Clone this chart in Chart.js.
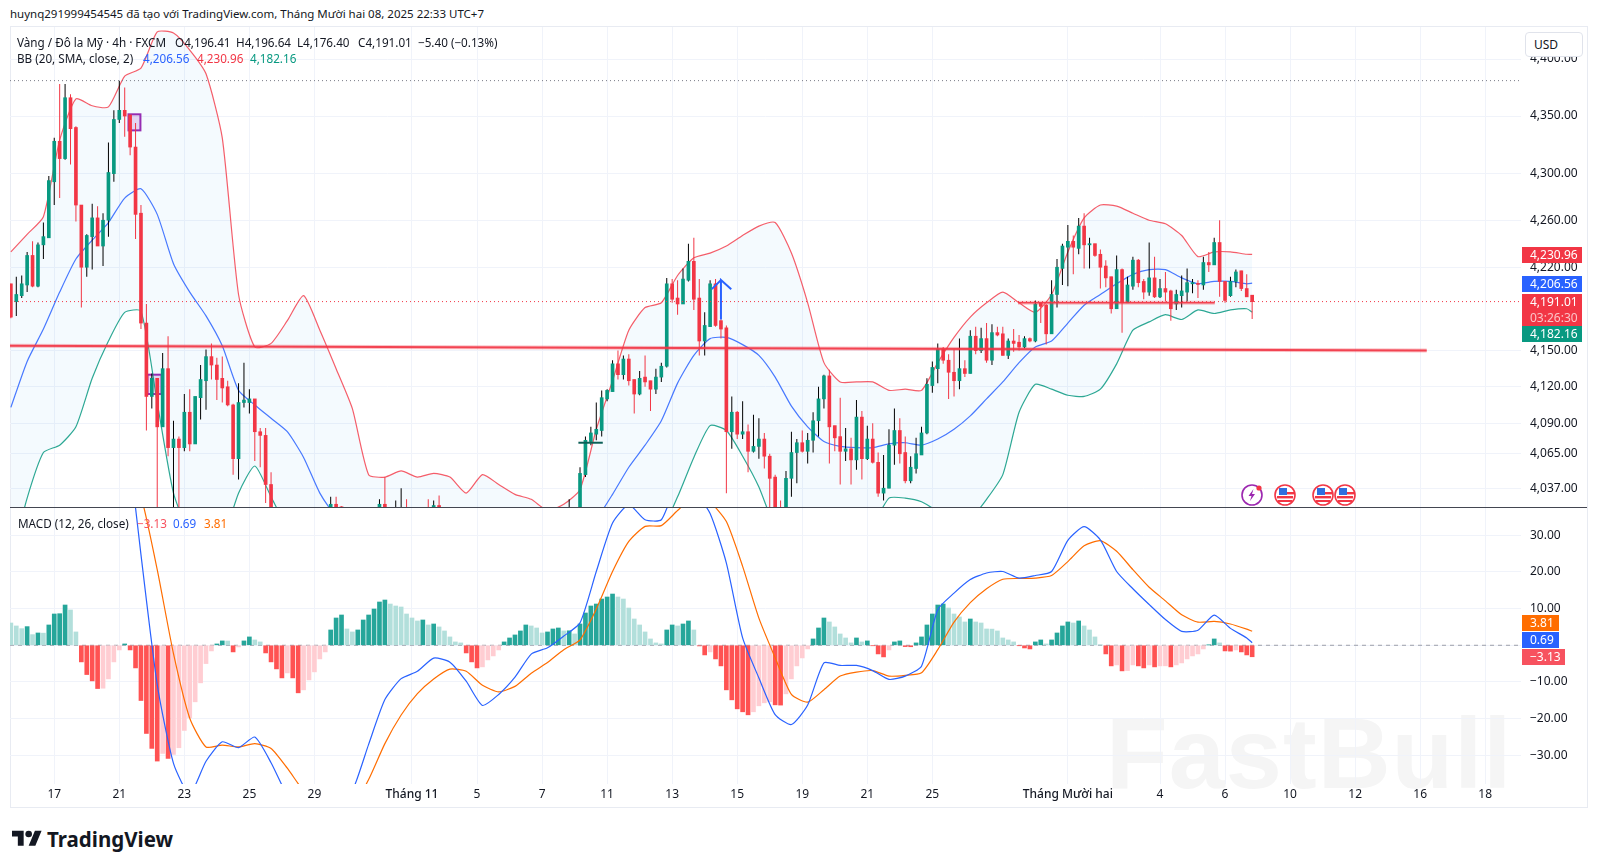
<!DOCTYPE html>
<html lang="vi">
<head>
<meta charset="utf-8">
<title>XAUUSD 4h</title>
<script src="https://cdn.jsdelivr.net/npm/chart.js@4/dist/chart.umd.min.js"></script>
<style>
  html,body{margin:0;background:#fff;}
  #page{position:relative;width:1597px;height:867px;overflow:hidden;font-family:"Noto Sans",sans-serif;font-size:12px;color:#131722;}
  canvas{position:absolute;display:block;}
  .frame{position:absolute;left:10px;top:26px;width:1576px;height:780px;border:1px solid #e8ebf2;box-sizing:content-box;}
  .sep{position:absolute;left:10px;top:507px;width:1577px;height:1px;background:#434651;}
  .t{position:absolute;white-space:nowrap;line-height:16px;font-size:11.7px;}
  .tag{position:absolute;left:1522px;color:#fff;text-align:left;padding-left:8px;box-sizing:border-box;line-height:16px;white-space:nowrap;}
  .usd{position:absolute;left:1525px;top:32px;width:58px;height:25px;border:1px solid #e0e3eb;border-radius:4px;background:#fff;box-sizing:border-box;line-height:23px;padding-left:8px;}
  .mark{position:absolute;left:1106px;top:703px;font-size:101px;font-weight:700;letter-spacing:1px;color:#f5f5f5;line-height:101px;white-space:nowrap;font-family:"Liberation Sans",sans-serif;}
  .logo{position:absolute;left:12px;top:825px;display:flex;align-items:center;gap:5px;font-size:20.5px;font-weight:700;color:#131722;}
  svg.ev{position:absolute;top:483px;width:24px;height:24px;}
</style>
</head>
<body>
<div id="page">
  <div class="mark">FastBull</div>
  <div class="frame"></div>
  <canvas id="priceChart" width="1577" height="480" style="left:10px;top:27px"></canvas>
  <canvas id="macdChart" width="1577" height="299" style="left:10px;top:508px"></canvas>
  <div class="sep"></div>

  <div class="t" style="left:10px;top:6px;font-size:11.5px">huynq291999454545 đã tạo với TradingView.com, Tháng Mười hai 08, 2025 22:33 UTC+7</div>

  <div class="t" style="left:17px;top:34px">Vàng / Đô la Mỹ · 4h · FXCM</div>
  <div class="t" style="left:175px;top:34px">O4,196.41</div>
  <div class="t" style="left:236px;top:34px">H4,196.64</div>
  <div class="t" style="left:297px;top:34px">L4,176.40</div>
  <div class="t" style="left:358px;top:34px">C4,191.01</div>
  <div class="t" style="left:418px;top:34px">−5.40 (−0.13%)</div>

  <div class="t" style="left:17px;top:50px">BB (20, SMA, close, 2)</div>
  <div class="t" style="left:143px;top:50px;color:#2962ff">4,206.56</div>
  <div class="t" style="left:197px;top:50px;color:#f23645">4,230.96</div>
  <div class="t" style="left:250px;top:50px;color:#089981">4,182.16</div>

  <div class="t" style="left:18px;top:515px">MACD (12, 26, close)</div>
  <div class="t" style="left:137px;top:515px;color:#f7525f">−3.13</div>
  <div class="t" style="left:173px;top:515px;color:#2962ff">0.69</div>
  <div class="t" style="left:204px;top:515px;color:#ff6d00">3.81</div>

  <div class="usd">USD</div>

  <div class="tag" style="top:247px;width:60px;height:16px;background:#f23645">4,230.96</div>
  <div class="tag" style="top:276px;width:60px;height:16px;background:#2962ff">4,206.56</div>
  <div class="tag" style="top:294px;width:60px;height:32px;background:#f23645">4,191.01<br><span style="opacity:.7">03:26:30</span></div>
  <div class="tag" style="top:326px;width:60px;height:16px;background:#089981">4,182.16</div>
  <div class="tag" style="top:615px;width:37px;height:16px;background:#ff6d00">3.81</div>
  <div class="tag" style="top:632px;width:37px;height:16px;background:#2962ff">0.69</div>
  <div class="tag" style="top:649px;width:43px;height:16px;background:#f7525f">−3.13</div>

  <svg class="ev" style="left:1240px" viewBox="0 0 24 24"><circle cx="12" cy="12" r="10" fill="#fff" stroke="#9c27b0" stroke-width="1.6"/><path d="M13.5 6l-5 7h3l-1.5 5 5-7h-3z" fill="#9c27b0"/><circle cx="19" cy="5" r="2.6" fill="#f23645"/></svg>
  <svg class="ev" style="left:1273px" viewBox="0 0 24 24"><use href="#usFlag"/></svg>
  <svg class="ev" style="left:1311px" viewBox="0 0 24 24"><use href="#usFlag"/></svg>
  <svg class="ev" style="left:1333px" viewBox="0 0 24 24"><use href="#usFlag"/></svg>
  <svg width="0" height="0" style="position:absolute"><defs><g id="usFlag"><circle cx="12" cy="12" r="10" fill="#fff" stroke="#f23645" stroke-width="1.6"/><rect x="4" y="13" width="16" height="2.4" fill="#f23645"/><rect x="5" y="17" width="14" height="2" fill="#f23645"/><rect x="14" y="9" width="7" height="2.4" fill="#f23645"/><rect x="6" y="5" width="8" height="7" fill="#2f6fe0"/></g></defs></svg>

  <div class="logo">
    <svg width="30" height="24" viewBox="0 0 36 28"><path fill="#131722" d="M14 22H7V11H0V4h14v18zM28 22h-8l7.5-18h8L28 22z"/><circle fill="#131722" cx="20" cy="8" r="4"/></svg>
    <span>TradingView</span>
  </div>
</div>

<script>
// ===== Data =====
const n = null; // candle hidden below the pane

const opens = [
  4206,4191,4196,4205,4230,4204,4239,4245,4293,4328,
  4313,4366,4340,4273,4220,4246,4262,4238,4260,4300,
  4347,4355,4351,4323,4266,4173,4112,4127,4087,4135,
  4070,4077,4070,4099,4073,4111,4125,4145,4138,4127,
  4120,4105,4061,4107,4107,4110,4083,4080,4040,n,
  n,n,n,n,n,n,n,n,n,4005,
  4024,4022,n,n,n,n,n,n,4010,4024,
  n,4005,4015,4018,n,n,n,4018,4008,4023,
  n,n,n,n,n,n,n,n,n,n,
  n,n,n,n,n,n,n,n,n,n,
  n,n,n,4005,n,4005,4048,4075,4081,4084,
  4110,4116,4139,4130,4143,4126,4114,4128,4125,4118,
  4128,4137,4206,4194,4189,4209,4225,4194,4158,4170,
  4206,4175,4169,4083,4099,4081,4083,4067,4071,4077,
  4063,4046,4018,4010,4045,4066,4074,4067,4076,4092,
  4110,4129,4088,4079,4067,4069,4060,4095,4061,4077,
  4058,4033,4037,4072,4084,4066,4043,4053,4064,4082,
  4121,4135,4151,4142,4132,4125,4135,4131,4162,4150,
  4160,4142,4165,4164,4146,4158,4157,4153,4160,4158,
  4190,4188,4164,4197,4219,4237,4242,4236,4255,4239,
  4240,4231,4221,4212,4185,4218,4190,4204,4226,4208,
  4199,4211,4195,4202,4200,4189,4196,4199,4206,4206,
  4205,4224,4222,4241,4208,4196,4208,4217,4202,4196.41
];
const highs = [
  4206,4212,4213,4233,4242,4241,4258,4298,4331,4378,
  4378,4369,4341,4273,4248,4274,4272,4266,4327,4355,
  4381,4375,4351,4344,4273,4189,4131,4127,4148,4162,
  4092,4079,4114,4118,4112,4138,4151,4156,4144,4145,
  4125,4106,4123,4140,4118,4110,4086,4086,4050,n,
  n,n,n,n,n,n,n,n,n,4030,
  4030,4022.5,n,n,n,n,n,n,4028,4046,
  n,4027,4037,4028,n,n,n,4028,4027,4031,
  n,n,n,n,n,n,n,n,n,n,
  n,n,n,n,n,n,n,n,n,n,
  n,n,n,4028,n,4054,4079,4087,4107,4117,
  4118,4142,4150,4146,4147,4126,4133,4146,4125,4135,
  4140,4211,4210,4209,4219,4240,4245,4210,4182,4209,
  4210,4176,4171,4112,4100,4108,4089,4097,4094,4082,
  4065,4048,4027,4051,4083,4077,4084,4082,4099,4120,
  4130,4134,4088,4111,4086,4078,4109,4100,4088,4090,
  4066,4064,4085,4102,4094,4079,4063,4078,4087,4127,
  4141,4156,4153,4147,4151,4160,4142,4167,4170,4169,
  4173,4172,4170,4170,4160,4168,4163,4162,4161,4192,
  4190,4189,4209,4227,4240,4256,4247,4262,4266,4245,
  4240,4235,4226,4212,4230,4219,4212,4229,4227,4210,
  4241,4229,4210,4216,4201,4201,4213,4219,4210,4209,
  4229,4233,4245,4260,4208,4212,4218,4217,4214,4196.64
];
const lows = [
  4177,4179,4194,4199,4203,4203,4227,4245,4273,4279,
  4312,4308,4259,4186,4212,4218,4238,4221,4246,4293,
  4344,4332,4316,4244,4168,4084,4102,4010,4087,4063,
  4010,4015,4067,4067,4073,4093,4101,4126,4109,4107,
  4104,4048,4044,4103,4098,4059,4054,4025,3990,n,
  n,n,n,n,n,n,n,n,n,4000,
  4005,4005,n,n,n,n,n,n,4000,4000,
  n,4000,4000,4000,n,n,n,4000,4000,4000,
  n,n,n,n,n,n,n,n,n,n,
  n,n,n,n,n,n,n,n,n,n,
  n,n,n,4000,n,4000,4046,4072,4076,4079,
  4108,4116,4126,4126,4121,4098,4113,4120,4100,4114,
  4124,4136,4190,4180,4189,4208,4184,4146,4146,4170,
  4170,4160,4033,4069,4077,4077,4050,4066,4061,4053,
  4005,4005,4005,4005,4030,4041,4066,4057,4066,4079,
  4102,4057,4067,4040,4059,4040,4052,4044,4060,4057,
  4030,4027,4037,4056,4057,4041,4041,4049,4064,4081,
  4115,4123,4139,4110,4112,4118,4128,4131,4147,4148,
  4140,4138,4162,4146,4143,4149,4150,4152,4157,4157,
  4173,4155,4164,4186,4205,4204,4214,4231,4219,4219,
  4229,4202,4203,4181,4185,4165,4190,4201,4203,4193,
  4196,4194,4194,4191,4175,4184,4186,4191,4198,4194,
  4201,4216,4222,4195,4190,4195,4203,4200,4195,4176.4
];
const closes = [
  4178,4197,4206,4230,4204,4239,4246,4294,4328,4313,
  4366,4339,4273,4220,4247,4262,4238,4260,4301,4347,
  4355,4350,4323,4265,4173,4112,4127,4087,4135,4070,
  4077,4070,4099,4073,4112,4126,4145,4138,4126,4119,
  4105,4061,4107,4109,4110,4083,4080,4040,4000,n,
  n,n,n,n,n,n,n,n,n,4024,
  4010,4012,n,n,n,n,n,n,4024,4010,
  n,4015,4018,4008,n,n,n,4008,4023,4010,
  n,n,n,n,n,n,n,n,n,n,
  n,n,n,n,n,n,n,n,n,n,
  n,n,n,4015,n,4049,4076,4082,4085,4111,
  4117,4139,4130,4143,4125,4114,4127,4124,4118,4128,
  4137,4206,4193,4189,4210,4225,4193,4158,4171,4206,
  4171,4168,4083,4099,4081,4083,4067,4071,4077,4063,
  4045,4012,4010,4045,4066,4074,4067,4076,4092,4110,
  4129,4087,4078,4067,4069,4060,4095,4061,4077,4058,
  4033,4037,4072,4084,4065,4043,4054,4065,4082,4122,
  4136,4151,4142,4132,4125,4135,4131,4162,4150,4160,
  4142,4165,4163,4146,4158,4156,4153,4160,4158,4189,
  4187,4164,4197,4220,4238,4242,4237,4255,4239,4240,
  4230,4220,4211,4185,4218,4190,4205,4226,4207,4199,
  4211,4195,4202,4199,4185,4197,4200,4207,4207,4205.5,
  4224,4222,4241,4208,4192,4208,4216,4202,4195,4191.01
];

// bands and MACD lines were read every third candle (plus the last one)
const lineIdx = [];
for(let i = 0; i <= 228; i += 3) lineIdx.push(i);
lineIdx.push(229);

const upperBand = [
  4233,4248,4263,4329,4365,4359,4358,4385,4392,4424,
  4423,4408,4387,4331,4197,4153,4156,4175,4196,4167,
  4135,4102,4048,4046,4051,4046,4049,4046,4033,4048,
  4040,4032,4028,4019,4024,4036,4085,4125,4167,4186,
  4190,4213,4228,4232,4238,4247,4255,4258,4232,4190,
  4140,4124,4124,4124,4117,4118,4117,4140,4161,4178,
  4190,4199,4190,4182,4197,4233,4262,4273,4272,4266,
  4260,4257,4247,4229,4233,4233,4231,4230.96
];
const midBand = [
  4103,4141,4168,4199,4227,4243,4258,4279,4287,4265,
  4223,4199,4179,4154,4117,4105,4094,4083,4062,4033,
  4014,4000,3990,3985,3980,3977,3977,3977,3976,3976,
  3977,3979,3982,3985,3991,4000,4012,4032,4054,4072,
  4092,4123,4146,4160,4161,4155,4146,4128,4104,4087,
  4075,4071,4070,4070,4073,4074,4072,4077,4085,4096,
  4110,4124,4140,4153,4158,4173,4188,4197,4206,4214,
  4218,4218,4211,4206,4208,4208,4206,4206.56
];
const lowerBand = [
  3978,4029,4066,4072,4087,4127,4158,4182,4183,4107,
  4033,4000,3985,3995,4033,4055,4030,4005,3990,3970,
  3950,3935,3925,3920,3915,3912,3910,3908,3908,3908,
  3912,3918,3925,3935,3945,3955,3965,3975,3985,3995,
  4003,4030,4062,4088,4084,4063,4038,4005,3990,3985,
  3985,3985,3995,4007,4029,4029,4026,4018,4005,4012,
  4028,4048,4099,4122,4118,4113,4112,4118,4139,4167,
  4174,4180,4176,4184,4181,4184,4185,4182.16
];
const macdLine = [
  n,n,n,n,n,n,n,63,24.7,-10.7,
  -32.2,-40.6,-31.6,-26.3,-27.9,-25,-32,-41,-47,-49,
  -45,-39.7,-27,-14.8,-9.1,-7.1,-3.5,-4.6,-9.8,-16.4,
  -13.4,-8.7,-2.4,-0.7,2.5,6.1,20.1,33.3,38.3,34.2,
  34.2,44,42,35.9,22.4,2,-8.9,-18.9,-21.6,-16.3,
  -4.8,-5.5,-5.5,-6.9,-9.3,-8.4,-5.7,9.7,14.2,17.9,
  19.7,20.1,18.3,19,20.1,28.6,32.3,28.7,20.1,15.4,
  11.1,7,3.8,4.1,8.2,4.6,2,0.69
];
const signalLine = [
  n,n,n,n,n,n,n,50,40.6,20.6,
  -2.3,-19.9,-27.7,-27.2,-27.7,-26.8,-28.1,-33.5,-39.7,-44,
  -46,-44,-36.6,-26.8,-19,-13.2,-9.2,-6.5,-7.1,-10.9,
  -12.7,-11.2,-7.6,-4.7,-1.2,1.5,9.9,20.1,28.3,32.4,
  32.6,36.7,40.5,39,33.7,21.5,7.4,-3.4,-13.4,-15.5,
  -12.1,-8.4,-7.3,-6.9,-8.4,-8.2,-7.5,-1.2,6.3,11.6,
  15.4,18,18.2,18.3,19,22.8,27.1,28.5,25.6,20.6,
  15.8,12.1,8.3,6.3,6.5,5.8,4.4,3.81
];
const histogram = [
  6.07,5.26,4.53,5.08,2.9,3.35,3.3,5.53,8.52,8.6,
  10.97,9.61,3.63,-4.53,-7.98,-9.7,-11.79,-11.7,-9.16,-4.53,
  -1.27,0.36,-1.27,-6.17,-15.05,-24.03,-28.1,-31.55,-29.47,-30.83,
  -29.74,-27.92,-23.21,-19.76,-15.41,-10.24,-4.99,-1.54,0.36,1.18,
  1.15,-1.81,-0.45,1.18,2.27,1.45,0.91,-2.09,-4.53,-6.44,
  -8.89,-7.53,-8.89,-12.96,-12.15,-9.43,-7.25,-3.72,-1.81,4.17,
  7.43,8.25,4.44,3.63,4.17,6.89,8.25,9.88,11.79,12.33,
  11.24,10.7,10.43,8.52,7.43,6.62,6.89,5.53,5.8,4.99,
  3.9,2.27,0.91,0.64,-2.09,-4.53,-6.17,-5.89,-3.99,-2.9,
  -1.27,0.91,1.99,2.81,3.9,5.53,5.26,4.71,3.35,3.63,
  4.44,4.71,3.9,3.95,3.08,5.8,8.79,10.7,11.24,12.6,
  13.15,13.96,13.15,12.6,10.15,7.16,5.53,3.63,1.72,0.64,
  0.36,4.17,5.53,5.26,5.8,6.62,4.17,-0.18,-2.63,-1.81,
  -3.72,-5.62,-12.15,-14.87,-17.32,-18.13,-18.95,-18.13,-16.5,-15.68,
  -15.41,-16.23,-16.3,-13.24,-9.16,-5.62,-3.45,-1,1.72,4.71,
  7.43,6.35,4.99,3.08,1.99,0.64,1.99,0.91,1.18,-0.1,
  -2.36,-3.17,-1.27,0.91,1.18,-0.36,-0.4,0.64,2.27,5.53,
  8.52,10.97,11.24,10.15,8.52,7.71,6.35,7.16,6.35,6.07,
  4.44,4.4,3.9,1.99,1.45,0.91,-0.09,-0.73,-1,0.91,
  1.45,0.36,1.45,3.35,5.26,6.35,6.07,6.62,5.26,4.17,
  2.27,0.09,-2.36,-5.62,-5.35,-6.98,-6.9,-5.35,-5.62,-6.17,
  -5.35,-5.89,-5.62,-5.6,-5.89,-5.35,-4.81,-3.72,-2.9,-2.36,
  -1,0.09,1.72,0.64,-1.54,-1.6,-1.27,-1.81,-2.63,-3.13
];

const priceTicks = [4400,4350,4300,4260,4220,4150,4120,4090,4065,4037];
const macdTicks = [-30,-20,-10,0,10,20,30];
const timeTickIdx = [8,20,32,44,56,74,86,98,110,122,134,146,158,170,195,212,224,236,248,260,272];
const timeTickLabels = ["17","21","23","25","29","Tháng 11","5","7","11","13","15","19","21","25","Tháng Mười hai","4","6","10","12","16","18"];

const highMark = 4381;
const lastClose = 4191.01;

// ===== Scale ranges =====
const X_MIN = -0.162, X_MAX = 278.6;
const PRICE_MIN = 4021.8, PRICE_MAX = 4428.4;
const MACD_MIN = -37.8, MACD_MAX = 37.4;

const GREEN = "#089981", RED = "#f23645", BLUE = "#2962ff", ORANGE = "#ff6d00", GRID = "#f0f3fa";

// ===== Helpers =====
function bandLine(values, color, extra){
  return Object.assign({
    type: "line",
    data: lineIdx.map((x, k) => ({ x: x, y: values[k] })),
    borderColor: color, borderWidth: 1.2, pointRadius: 0, tension: 0.2, clip: 0, order: 8
  }, extra || {});
}
function drawing(points, color, width, extra){
  return Object.assign({
    type: "line",
    data: points.map(p => ({ x: p[0], y: p[1] })),
    borderColor: color, borderWidth: width, pointRadius: 0, tension: 0, clip: 0, order: 1
  }, extra || {});
}
function fmtPrice(v){ return v.toLocaleString("en-US", { minimumFractionDigits: 2, maximumFractionDigits: 2 }); }

// keep the panes edge to edge: no room reserved for half a tick label
function noPadding(s){ s.paddingTop = 0; s.paddingBottom = 0; s.paddingLeft = 0; s.paddingRight = 0; }

const shown = opens.map((o, i) => i).filter(i => opens[i] !== null);
const isUp = i => closes[i] >= opens[i];

function histColor(v, i){
  const prev = i > 0 ? histogram[i-1] : v + 1;
  if(v >= 0) return v > prev ? "#26a69a" : "#b2dfdb";
  return v < prev ? "#ff5252" : "#ffcdd2";
}

// purple rectangle drawings sit under the candles
const boxes = [
  { i0: 21.7, i1: 23.9, hi: 4351.5, lo: 4337.5 },
  { i0: 25.2, i1: 27.8, hi: 4130, lo: 4114 }
];
const boxPlugin = {
  id: "boxes",
  beforeDatasetsDraw(chart){
    const ctx = chart.ctx, xs = chart.scales.x, ys = chart.scales.y;
    ctx.save();
    ctx.fillStyle = "rgba(156,39,176,0.18)";
    ctx.strokeStyle = "#9c27b0";
    ctx.lineWidth = 2;
    boxes.forEach(b => {
      const x0 = xs.getPixelForValue(b.i0), x1 = xs.getPixelForValue(b.i1);
      const y0 = ys.getPixelForValue(b.hi), y1 = ys.getPixelForValue(b.lo);
      ctx.fillRect(x0, y0, x1 - x0, y1 - y0);
      ctx.strokeRect(x0, y0, x1 - x0, y1 - y0);
    });
    ctx.restore();
  }
};

function xAxis(showLabels){
  return {
    type: "linear", min: X_MIN, max: X_MAX, offset: false,
    afterBuildTicks: s => { s.ticks = timeTickIdx.map(v => ({ value: v })); },
    afterFit: s => { s.height = showLabels ? 23 : 0; noPadding(s); },
    grid: { color: GRID, offset: false, drawTicks: false },
    border: { display: false },
    ticks: {
      display: showLabels, autoSkip: false, maxRotation: 0, padding: 3, color: "#131722",
      font: ctx => ({ size: 12, weight: String(timeTickLabels[ctx.index]).indexOf("Tháng") === 0 ? "500" : "400" }),
      callback: v => timeTickLabels[timeTickIdx.indexOf(v)]
    }
  };
}
function yAxis(type, min, max, tickList, label){
  return {
    type: type, position: "right", min: min, max: max,
    afterBuildTicks: s => { s.ticks = tickList.map(v => ({ value: v })); },
    afterFit: s => { s.width = 66; noPadding(s); },
    grid: { color: GRID, drawTicks: false },
    border: { display: false },
    ticks: { autoSkip: false, padding: 9, color: "#131722", font: { size: 12 }, callback: label }
  };
}

// ===== Charts =====
Chart.defaults.font.family = '"Noto Sans", sans-serif';
Chart.defaults.animation = false;

new Chart(document.getElementById("priceChart"), {
  type: "bar",
  plugins: [boxPlugin],
  data: { datasets: [
    bandLine(upperBand, "rgba(242,54,69,0.8)", { fill: 2, backgroundColor: "rgba(33,150,243,0.05)", order: 9 }),
    bandLine(midBand, BLUE, { borderColor: "rgba(41,98,255,0.85)" }),
    bandLine(lowerBand, "rgba(8,153,129,0.85)"),
    {
      data: shown.map(i => ({ x: i, y: [lows[i], highs[i]] })),
      backgroundColor: shown.map(i => isUp(i) ? "#000000" : RED),
      barThickness: 1, grouped: false, inflateAmount: 0, clip: 0, order: 5
    },
    {
      data: shown.map(i => ({ x: i, y: [opens[i], closes[i]] })),
      backgroundColor: shown.map(i => isUp(i) ? GREEN : RED),
      barThickness: 3, minBarLength: 1, grouped: false, clip: 0, order: 4
    },
    drawing([[X_MIN, highMark], [X_MAX, highMark]], "#787b86", 1, { borderDash: [1, 3] }),
    drawing([[X_MIN, lastClose], [X_MAX, lastClose]], RED, 1, { borderDash: [1, 3] }),
    // trend lines with their soft halo
    drawing([[X_MIN, 4154], [261.2, 4150]], "rgba(242,54,69,0.3)", 4),
    drawing([[X_MIN, 4154], [261.2, 4150]], "rgba(242,54,69,0.9)", 2),
    drawing([[185.8, 4190], [222.1, 4190]], "rgba(242,54,69,0.3)", 4),
    drawing([[185.8, 4190], [222.1, 4190]], "rgba(242,54,69,0.9)", 1.6),
    drawing([[104.7, 4074], [109.2, 4074]], "#0c5f57", 2),
    // blue arrow
    drawing([[129.3, 4201.5], [131, 4209.2], [132.9, 4201.5], [131, 4209.2], [131, 4176]], BLUE, 2)
  ]},
  options: {
    responsive: false, maintainAspectRatio: false,
    layout: { padding: 0 },
    plugins: { legend: { display: false }, tooltip: { enabled: false } },
    scales: {
      x: xAxis(false),
      y: yAxis("logarithmic", PRICE_MIN, PRICE_MAX, priceTicks, fmtPrice)
    }
  }
});

new Chart(document.getElementById("macdChart"), {
  type: "bar",
  data: { datasets: [
    drawing([[X_MIN, 0], [X_MAX, 0]], "rgba(120,123,134,0.7)", 1, { borderDash: [4, 4], order: 6 }),
    {
      data: histogram.map((v, i) => ({ x: i, y: v })),
      backgroundColor: histogram.map(histColor),
      barThickness: 4, grouped: false, clip: 0, order: 5
    },
    bandLine(signalLine, ORANGE, { order: 2 }),
    bandLine(macdLine, BLUE, { order: 1 })
  ]},
  options: {
    responsive: false, maintainAspectRatio: false,
    layout: { padding: 0 },
    plugins: { legend: { display: false }, tooltip: { enabled: false } },
    scales: {
      x: xAxis(true),
      y: yAxis("linear", MACD_MIN, MACD_MAX, macdTicks, v => v === 0 ? "" : (v < 0 ? "−" : "") + Math.abs(v).toFixed(2))
    }
  }
});
</script>
</body>
</html>
